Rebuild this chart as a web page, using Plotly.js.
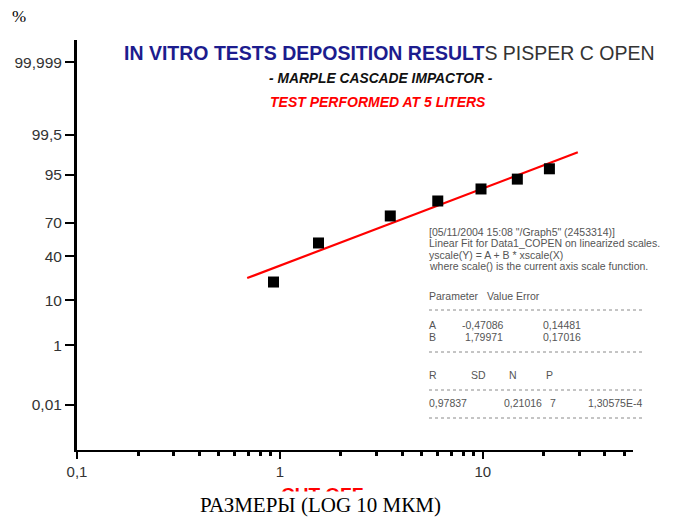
<!DOCTYPE html>
<html>
<head>
<meta charset="utf-8">
<script src="https://cdn.plot.ly/plotly-3.0.1.min.js"></script>
<style>html,body{margin:0;padding:0;background:#fff;}#chart{width:677px;height:519px;}</style>
</head>
<body>
<div id="chart"></div>
<script>
// ---- data ----
const cutSizes = [0.93, 1.55, 3.5, 6.0, 9.8, 14.8, 21.3];          // µm
const cumulativePct = [19.7, 52.3, 75.4, 85.0, 90.6, 93.9, 96.3];  // %
const fitA = -0.47086;
const fitB = 1.79971;
const fitRange = [0.69, 29.4];
const yTickPct = [99.999, 99.5, 95, 70, 40, 10, 1, 0.01];
const yTickText = ['99,999', '99,5', '95', '70', '40', '10', '1', '0,01'];
const xTickVals = [0.1, 1, 10];
const xTickText = ['0,1', '1', '10'];
const xMinorVals = [0.2,0.3,0.4,0.5,0.6,0.7,0.8,0.9,2,3,4,5,6,7,8,9,20,30,40,50];

// probability (probit) scale function
function probit(p){
  const a=[-3.969683028665376e+01,2.209460984245205e+02,-2.759285104469687e+02,1.383577518672690e+02,-3.066479806614716e+01,2.506628277459239e+00];
  const b=[-5.447609879822406e+01,1.615858368580409e+02,-1.556989798598866e+02,6.680131188771972e+01,-1.328068155288572e+01];
  const c=[-7.784894002430293e-03,-3.223964580411365e-01,-2.400758277161838e+00,-2.549671348850300e+00,4.374664141464968e+00,2.938163982698783e+00];
  const d=[7.784695709041462e-03,3.224671290700398e-01,2.445134137142996e+00,3.754408661907416e+00];
  const pl=0.02425, ph=1-pl; let q,r;
  if(p<pl){q=Math.sqrt(-2*Math.log(p));return (((((c[0]*q+c[1])*q+c[2])*q+c[3])*q+c[4])*q+c[5])/((((d[0]*q+d[1])*q+d[2])*q+d[3])*q+1);}
  if(p<=ph){q=p-0.5;r=q*q;return (((((a[0]*r+a[1])*r+a[2])*r+a[3])*r+a[4])*r+a[5])*q/(((((b[0]*r+b[1])*r+b[2])*r+b[3])*r+b[4])*r+1);}
  q=Math.sqrt(-2*Math.log(1-p));return -(((((c[0]*q+c[1])*q+c[2])*q+c[3])*q+c[4])*q+c[5])/((((d[0]*q+d[1])*q+d[2])*q+d[3])*q+1);
}
const pscale = v => probit(v/100);

const fitX = fitRange;
const fitY = fitX.map(x => fitA + fitB*Math.log10(x));

const traces = [
  {x: fitX, y: fitY, mode: 'lines', line: {color: '#ff0000', width: 2.2}, hoverinfo: 'skip'},
  {x: cutSizes, y: cumulativePct.map(pscale), mode: 'markers',
   marker: {symbol: 'square', size: 11, color: '#000'}, hoverinfo: 'skip'}
];

// plot area in pixels: x 77..633, y 40..450
const L=77, R=633, T=40, B=450;
const px = v => (v-L)/(R-L);
const py = v => (B-v)/(B-T);

const statFont = {family: 'Liberation Sans, Arial, sans-serif', size: 10.5, color: '#555'};
function st(text, x, y){
  return {text: text, x: px(x-2), y: py(y), xref:'paper', yref:'paper', showarrow:false,
          xanchor:'left', yanchor:'middle', font: statFont};
}
const anns = [
  {text: '%', x: px(19), y: py(17), xref:'paper', yref:'paper', showarrow:false, xanchor:'center', yanchor:'middle',
   font:{family:'Liberation Serif, Times New Roman, serif', size:17, color:'#000'}},
  {text: '<span style="color:#1c1c8e"><b>IN VITRO TESTS DEPOSITION RESULT</b></span><span style="color:#333">S PISPER C OPEN</span>',
   x: px(389.5), y: py(52.5), xref:'paper', yref:'paper', showarrow:false, xanchor:'center', yanchor:'middle',
   font:{family:'Liberation Sans, Arial, sans-serif', size:19.5}},
  {text: '<b><i>- MARPLE CASCADE IMPACTOR -</i></b>', x: px(381), y: py(79), xref:'paper', yref:'paper', showarrow:false,
   xanchor:'center', yanchor:'middle', font:{family:'Liberation Sans, Arial, sans-serif', size:13.8, color:'#111'}},
  {text: '<b><i>TEST PERFORMED AT 5 LITERS</i></b>', x: px(377.5), y: py(102), xref:'paper', yref:'paper', showarrow:false,
   xanchor:'center', yanchor:'middle', font:{family:'Liberation Sans, Arial, sans-serif', size:14, color:'#ff0000'}},
  {text: '<b>CUT OFF</b>', x: px(322), y: py(494), xref:'paper', yref:'paper', showarrow:false,
   xanchor:'center', yanchor:'middle', font:{family:'Liberation Sans, Arial, sans-serif', size:19, color:'#ff0000'}},
  {text: 'РАЗМЕРЫ (LOG 10 МКМ)', x: px(320), y: py(505), xref:'paper', yref:'paper', showarrow:false,
   xanchor:'center', yanchor:'middle', bgcolor:'#ffffff', borderpad:1,
   font:{family:'Liberation Serif, Times New Roman, serif', size:21, color:'#000'}},
  st('[05/11/2004 15:08 "/Graph5" (2453314)]', 429, 231.5),
  st('Linear Fit for Data1_COPEN on linearized scales.', 429, 243),
  st('yscale(Y) = A + B * xscale(X)', 429, 254.5),
  st('where scale() is the current axis scale function.', 429, 266),
  st('Parameter', 429, 296), st('Value', 487, 296), st('Error', 516, 296),
  st('A', 429, 325), st('-0,47086', 462, 325), st('0,14481', 543, 325),
  st('B', 429, 337), st('1,79971', 465, 337), st('0,17016', 543, 337),
  st('R', 429, 375), st('SD', 471, 375), st('N', 509, 375), st('P', 546, 375),
  st('0,97837', 429, 403), st('0,21016', 504, 403), st('7', 550, 403), st('1,30575E-4', 588, 403)
];
const shapes = [310, 352, 390, 418].map(y => ({
  type:'line', xref:'paper', yref:'paper', x0: px(429), x1: px(645), y0: py(y), y1: py(y),
  line:{color:'#8a8a8a', width:1, dash:'dot'}
}));

const layout = {
  width: 677, height: 519,
  margin: {l: L, r: 677-R, t: T, b: 519-B, pad: 0},
  paper_bgcolor: '#fff', plot_bgcolor: '#fff',
  showlegend: false, hovermode: false,
  xaxis: {
    type: 'log', range: [-1, Math.log10(55)],
    tickmode: 'array', tickvals: xTickVals, ticktext: xTickText,
    ticks: 'outside', ticklen: 7, tickwidth: 2, tickcolor: '#000',
    showline: true, linecolor: '#000', linewidth: 2, showgrid: false, zeroline: false,
    tickfont: {family: 'Liberation Sans, Arial, sans-serif', size: 15, color: '#333'},
    minor: {tickmode: 'array', tickvals: xMinorVals, ticks: 'outside', ticklen: 4, tickwidth: 3, tickcolor: '#000', showgrid: false}
  },
  yaxis: {
    range: [-4.768, 4.789],
    tickmode: 'array', tickvals: yTickPct.map(pscale), ticktext: yTickText,
    ticks: 'outside', ticklen: 9, tickwidth: 2, tickcolor: '#000',
    showline: true, linecolor: '#000', linewidth: 3, showgrid: false, zeroline: false,
    tickfont: {family: 'Liberation Sans, Arial, sans-serif', size: 15.5, color: '#333'}
  },
  annotations: anns,
  shapes: shapes
};

Plotly.newPlot('chart', traces, layout, {displayModeBar: false, staticPlot: true});
</script>
</body>
</html>
